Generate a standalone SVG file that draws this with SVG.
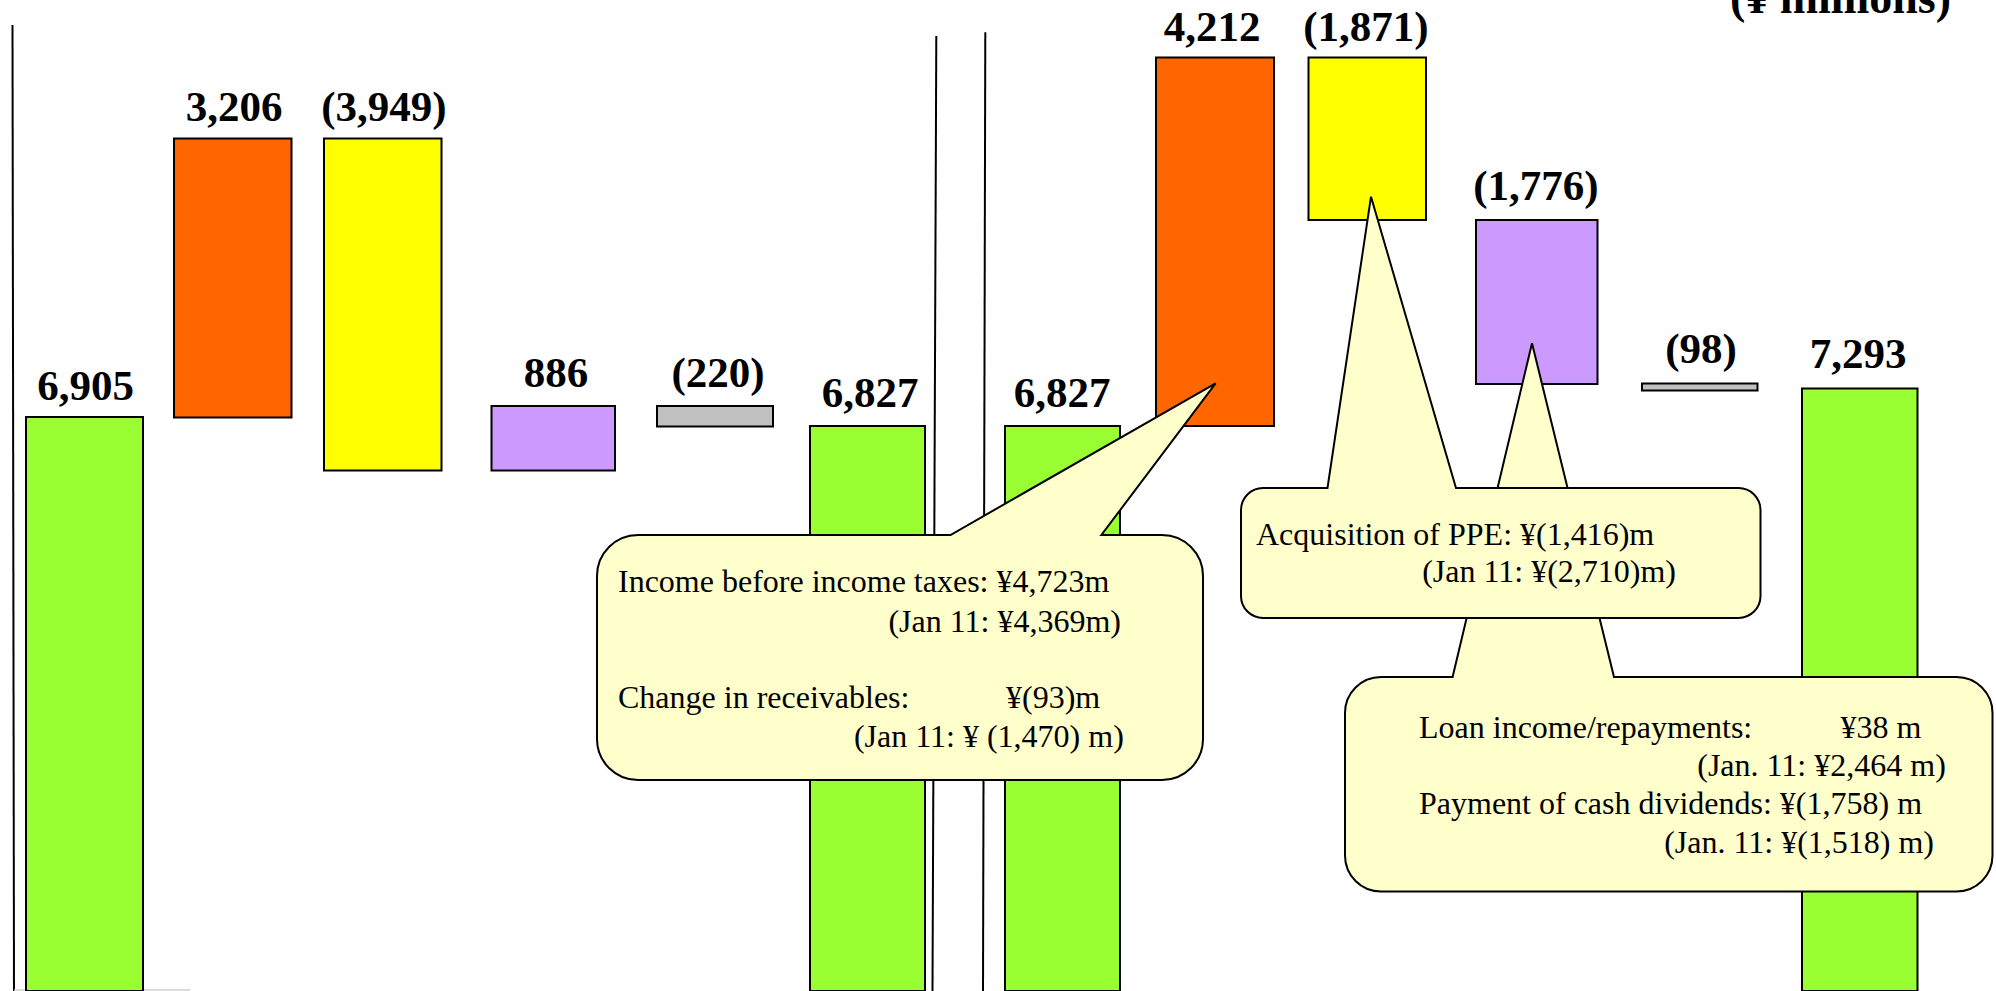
<svg xmlns="http://www.w3.org/2000/svg" width="1996" height="991" viewBox="0 0 1996 991">
<style>
.bar{stroke:#000;stroke-width:2}
.g{fill:#99FF33}.o{fill:#FF6600}.y{fill:#FFFF00}.p{fill:#CC99FF}.s{fill:#C0C0C0}
.lbl{font-family:"Liberation Serif","Times New Roman",serif;font-weight:bold;font-size:43px;fill:#000;text-anchor:middle}
.ttl{font-family:"Liberation Serif","Times New Roman",serif;font-weight:bold;font-size:46px;fill:#000;text-anchor:end}
.co{fill:#FFFFCC;stroke:#000;stroke-width:2;stroke-linejoin:miter}
.ct{font-family:"Liberation Serif","Times New Roman",serif;font-size:32px;fill:#000}
.div{stroke:#000;stroke-width:2;fill:none}
</style>
<rect width="1996" height="991" fill="#fff"/>
<text class="ttl" x="1951" y="13">(¥ millions)</text>
<g id="dividers">
<line class="div" x1="12.5" y1="25" x2="14" y2="991"/>
<line class="div" x1="936.3" y1="36" x2="932.5" y2="991"/>
<line class="div" x1="985.3" y1="32.3" x2="983" y2="991"/>
<line x1="14" y1="990" x2="190" y2="990" stroke="#D0D0D0" stroke-width="1.5"/>
</g>
<g id="bar-start-cash"><rect class="bar g" x="26" y="417" width="117" height="574"/><text class="lbl" x="85.5" y="400">6,905</text></g>
<g id="bar-op-in"><rect class="bar o" x="174" y="138.5" width="117.5" height="279"/><text class="lbl" x="234" y="121">3,206</text></g>
<g id="bar-inv-out"><rect class="bar y" x="324" y="138.5" width="117.5" height="332"/><text class="lbl" x="384" y="121">(3,949)</text></g>
<g id="bar-fin-1"><rect class="bar p" x="491.5" y="406" width="123.5" height="64.5"/><text class="lbl" x="556" y="387">886</text></g>
<g id="bar-fx-1"><rect class="bar s" x="657" y="406" width="116" height="20.5"/><text class="lbl" x="718" y="387">(220)</text></g>
<g id="bar-end-cash-1"><rect class="bar g" x="810" y="426" width="115" height="565"/><text class="lbl" x="870" y="407">6,827</text></g>
<g id="bar-start-cash-2"><rect class="bar g" x="1005" y="426" width="115" height="565"/><text class="lbl" x="1062" y="407">6,827</text></g>
<g id="bar-op-in-2"><rect class="bar o" x="1156" y="57.5" width="118" height="368.5"/><text class="lbl" x="1212" y="41">4,212</text></g>
<g id="bar-inv-out-2"><rect class="bar y" x="1308.5" y="57.5" width="117.5" height="162.5"/><text class="lbl" x="1366" y="41">(1,871)</text></g>
<g id="bar-fin-2"><rect class="bar p" x="1476" y="220" width="121.5" height="164"/><text class="lbl" x="1536" y="200">(1,776)</text></g>
<g id="bar-fx-2"><rect class="bar s" x="1642" y="383.5" width="115.5" height="7"/><text class="lbl" x="1701" y="363">(98)</text></g>
<g id="bar-end-cash-2"><rect class="bar g" x="1802" y="388.5" width="115.5" height="602.5"/><text class="lbl" x="1858" y="368">7,293</text></g>
<g id="callout-financing">
<path class="co" d="M1381,677 L1452.6,677 L1532,343.3 L1614,677 L1956.5,677 A36,36 0 0 1 1992.5,713 L1992.5,855.5 A36,36 0 0 1 1956.5,891.5 L1381,891.5 A36,36 0 0 1 1345,855.5 L1345,713 A36,36 0 0 1 1381,677 Z"/>
<text class="ct" x="1419" y="738">Loan income/repayments:</text>
<text class="ct" x="1921.5" y="738" text-anchor="end">¥38 m</text>
<text class="ct" x="1945.8" y="776" text-anchor="end">(Jan. 11: ¥2,464 m)</text>
<text class="ct" x="1419" y="814">Payment of cash dividends: ¥(1,758) m</text>
<text class="ct" x="1934" y="852.7" text-anchor="end">(Jan. 11: ¥(1,518) m)</text>
</g>
<g id="callout-investing">
<path class="co" d="M1263,488 L1327.5,488 L1371,196.7 L1456,488 L1738.5,488 A22,22 0 0 1 1760.5,510 L1760.5,596 A22,22 0 0 1 1738.5,618 L1263,618 A22,22 0 0 1 1241,596 L1241,510 A22,22 0 0 1 1263,488 Z"/>
<text class="ct" x="1256" y="545">Acquisition of PPE: ¥(1,416)m</text>
<text class="ct" x="1676" y="581.7" text-anchor="end">(Jan 11: ¥(2,710)m)</text>
</g>
<g id="callout-operating">
<path class="co" d="M638,535 L950.5,535 L1215.6,383.3 L1101.4,535 L1162,535 A41,41 0 0 1 1203,576 L1203,739 A41,41 0 0 1 1162,780 L638,780 A41,41 0 0 1 597,739 L597,576 A41,41 0 0 1 638,535 Z"/>
<text class="ct" x="618" y="591.7">Income before income taxes: ¥4,723m</text>
<text class="ct" x="1121" y="631.7" text-anchor="end">(Jan 11: ¥4,369m)</text>
<text class="ct" x="618" y="708.3">Change in receivables:</text>
<text class="ct" x="1006" y="708.3">¥(93)m</text>
<text class="ct" x="1123.8" y="746.7" text-anchor="end">(Jan 11: ¥ (1,470) m)</text>
</g>
</svg>
